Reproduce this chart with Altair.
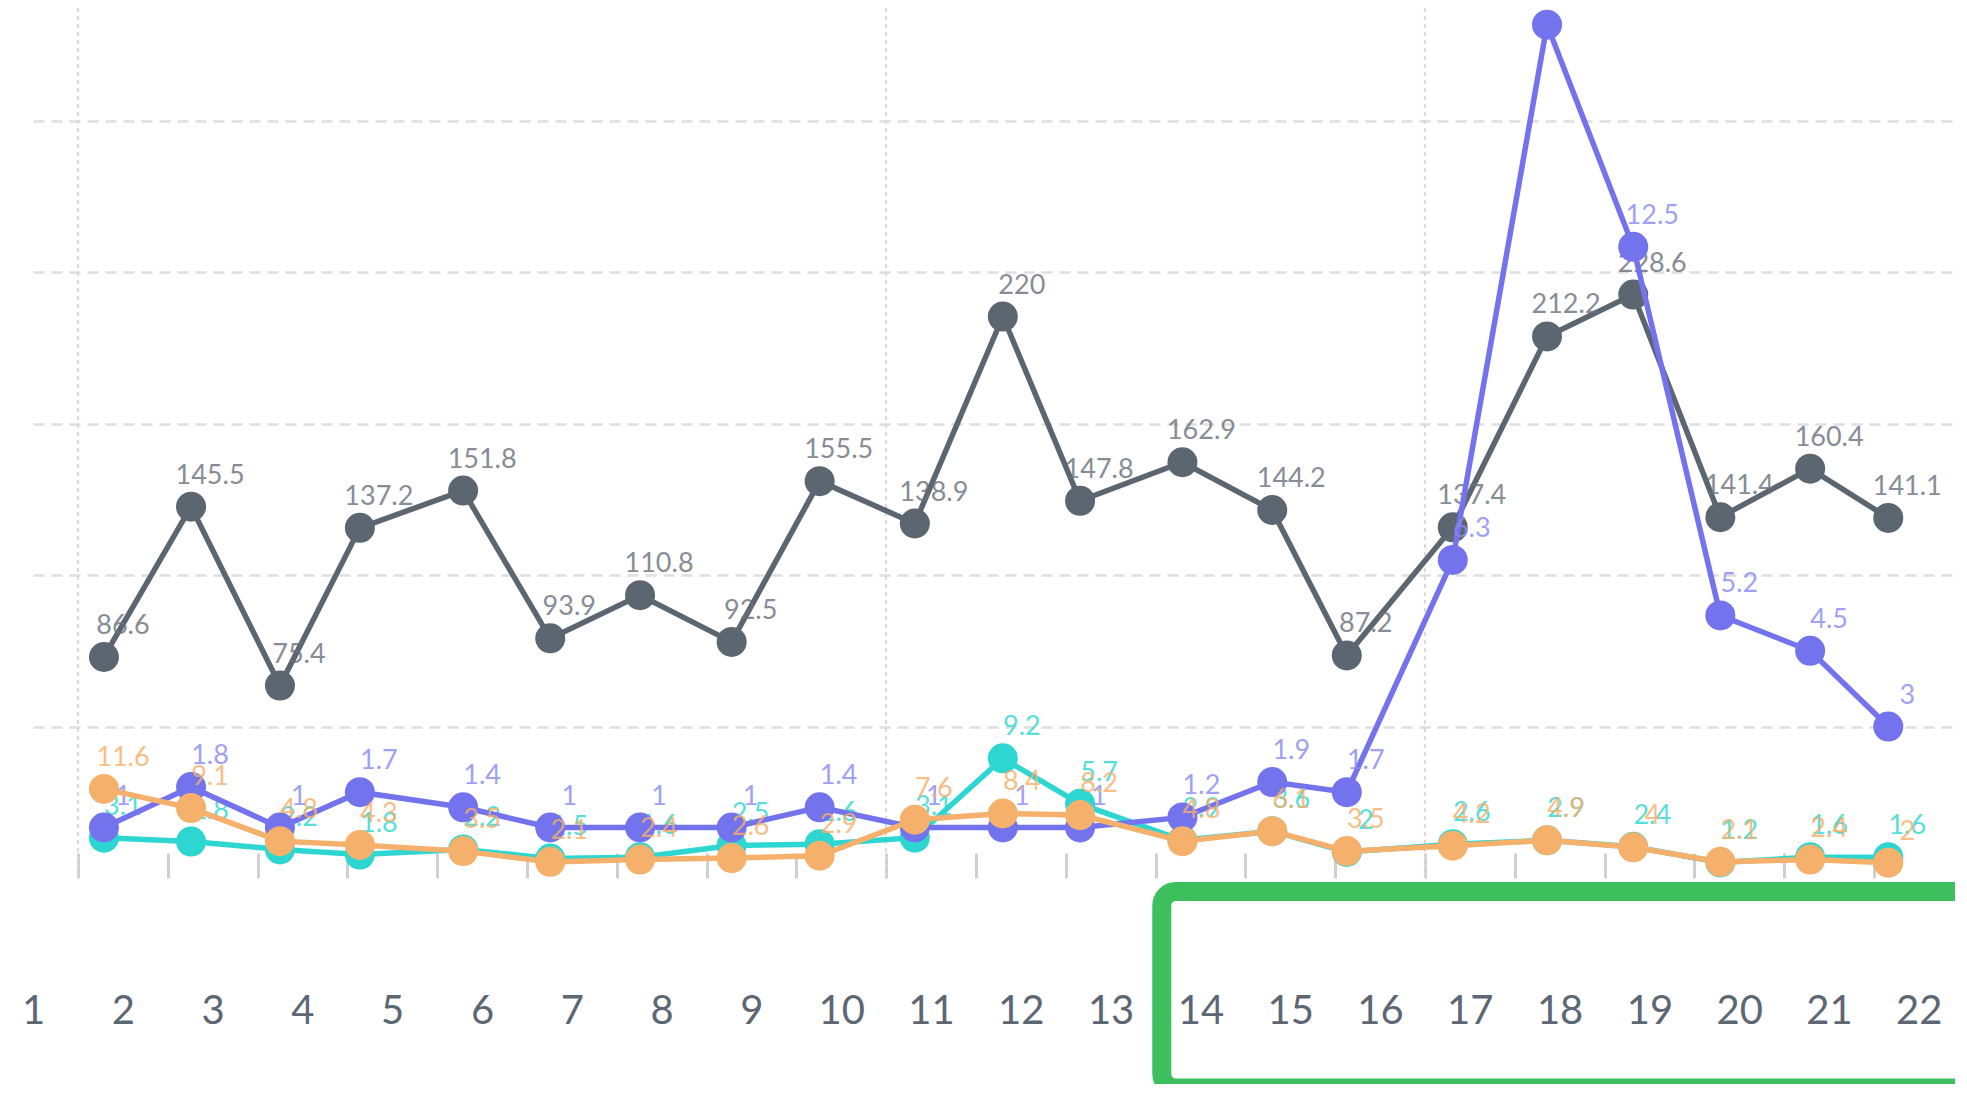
import altair as alt
import pandas as pd

# ---- data ----
day_labels = list(range(1, 23))
day = [1.79, 2.76, 3.75, 4.64, 5.79, 6.76, 7.76, 8.78, 9.76, 10.82, 11.80,
       12.66, 13.80, 14.80, 15.63, 16.81, 17.86, 18.82, 19.79, 20.79, 21.66]
gray_vals = [86.6, 145.5, 75.4, 137.2, 151.8, 93.9, 110.8, 92.5, 155.5, 138.9, 220,
             147.8, 162.9, 144.2, 87.2, 137.4, 212.2, 228.6, 141.4, 160.4, 141.1]
purple_vals = [1, 1.8, 1, 1.7, 1.4, 1, 1, 1, 1.4, 1, 1,
               1, 1.2, 1.9, 1.7, 6.3, 16.9, 12.5, 5.2, 4.5, 3]
cyan_vals = [3.1, 2.8, 2.2, 1.8, 2.2, 1.5, 1.6, 2.5, 2.6, 3.1, 9.2,
             5.7, 2.9, 3.6, 2.0, 2.6, 2.9, 2.4, 1.2, 1.6, 1.6]
orange_vals = [11.6, 9.1, 4.8, 4.3, 3.5, 2.1, 2.4, 2.6, 2.9, 7.6, 8.4,
               8.2, 4.8, 6.1, 3.5, 4.2, 4.9, 4.0, 2.1, 2.4, 2]
vgrid_days = [1.5, 10.5, 16.5]
purple_grid = [3, 6, 9, 12, 15]
highlight_start = [13.57]
highlight_end = [22.8]

W, H = 1920, 870
PX_PER_DAY = 89.8

xscale = alt.Scale(domain=[1.0, 1.0 + W / PX_PER_DAY], nice=False, zero=False)
xaxis = alt.Axis(values=day_labels, title="", grid=False, domain=False,
                 ticks=True, tickSize=25, tickWidth=3, tickColor="#d0d0d0",
                 tickOffset=44.9, labelOffset=-44.9, offset=-25,
                 labelPadding=133, labelBaseline="middle", labelFontSize=40,
                 labelFont="Lato", labelColor="#5d6773", labelFlush=False,
                 labelOverlap=False)
X = alt.X("day:Q", scale=xscale, axis=xaxis)


def frame(vals):
    return pd.DataFrame({"day": day, "v": vals, "label": [f"{v:g}" for v in vals]})


def series(vals, color, top, axis, label_color):
    base = alt.Chart(frame(vals)).encode(
        x=X,
        y=alt.Y("v:Q", scale=alt.Scale(domain=[0, top], nice=False, zero=False), axis=axis),
    )
    line = base.mark_line(color=color, strokeWidth=5.5)
    pts = base.mark_circle(color=color, size=900, opacity=1)
    txt = base.mark_text(dx=19, dy=-31, baseline="middle", align="center",
                         fontSize=27, font="Lato", color=label_color,
                         opacity=0.8).encode(text="label:N")
    return alt.layer(line, pts, txt)


no_axis = None
grid_axis = alt.Axis(values=purple_grid, grid=True, gridDash=[11, 7],
                     gridColor="#dedede", gridWidth=2.5, labels=False,
                     ticks=False, domain=False, title="")

vgrid = alt.Chart(pd.DataFrame({"day": vgrid_days})).mark_rule(
    color="#d9d9d9", strokeWidth=2, strokeDash=[4, 4]).encode(x=X)

gray = series(gray_vals, "#5c6670", 340.9, no_axis, "#68717c")
cyan = series(cyan_vals, "#2ed6d2", 66.9, no_axis, "#2ed6d2")
purple = series(purple_vals, "#7373ee", 17.23, grid_axis, "#8a8af2")
orange = series(orange_vals, "#f5b06b", 113.3, no_axis, "#f5b06b")

box = alt.Chart(pd.DataFrame({"day": highlight_start, "day_end": highlight_end})).mark_rect(
    fillOpacity=0, stroke="#3dbf5e", strokeWidth=19, cornerRadius=14).encode(
    x=X, x2="day_end:Q", y=alt.value(883.5), y2=alt.value(1080))

chart = alt.layer(vgrid, gray, cyan, purple, orange, box).resolve_scale(
    y="independent"
).properties(
    width=W, height=H,
    autosize=alt.AutoSizeParams(type="none"),
    padding={"left": 25, "top": 0, "right": 2, "bottom": 206},
).configure_view(strokeWidth=0)

chart.save("out.html", embed_options={"renderer": "svg", "actions": False})
